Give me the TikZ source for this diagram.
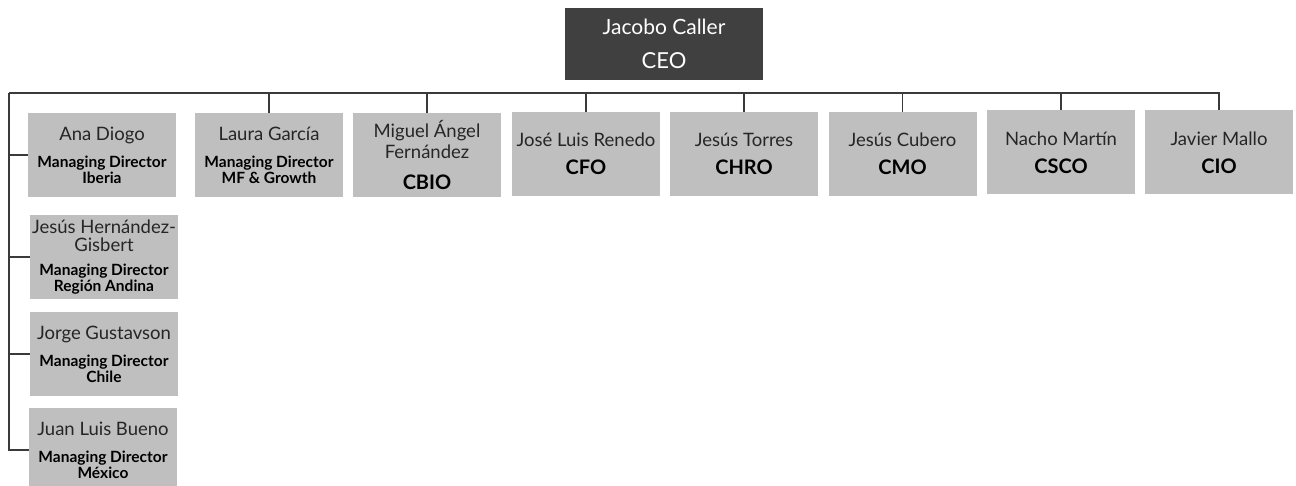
\documentclass[tikz,border=0pt]{standalone}
\usepackage{fontspec}
\setmainfont{Lato}
\usetikzlibrary{positioning}

\definecolor{ceogray}{HTML}{404040}
\definecolor{boxgray}{HTML}{BFBFBF}
\definecolor{linegray}{HTML}{3A3A3A}
\definecolor{namegray}{HTML}{262626}

\newcommand{\who}[1]{{\color{namegray}\fontsize{18.5}{20}\selectfont #1}}
\newcommand{\post}[1]{{\bfseries\fontsize{20}{22}\selectfont #1}}
\newcommand{\mdline}[1]{{\bfseries\fontsize{15.5}{15}\selectfont #1}}

\tikzset{
  person/.style={fill=boxgray, minimum width=148pt, minimum height=84pt,
    inner sep=0pt, align=center, font=\fontsize{13}{16}\selectfont},
  boss/.style={fill=ceogray, text=white, minimum width=198pt,
    minimum height=72pt, inner sep=0pt, align=center,
    font=\fontsize{13}{16}\selectfont},
  orgline/.style={draw=linegray, line width=1.2pt}
}

\begin{document}
\begin{tikzpicture}[x=1pt, y=1pt]
  \useasboundingbox (0,0) rectangle (1296,-486);

  % CEO
  \node[boss] (ceo) at (664,-44)
    {{\fontsize{21}{20}\selectfont Jacobo Caller}\\[17pt]{\fontsize{22}{22}\selectfont CEO}};

  % direct reports
  \node[person] (laura) at (269,-155)
    {\who{Laura García}\\[11pt]\mdline{Managing Director}\\[0pt]\mdline{MF \& Growth}};
  \node[person] (miguel) at (427,-155)
    {\who{Miguel Ángel}\\[3pt]\who{Fernández}\\[15pt]\post{CBIO}};
  \node[person] (jose) at (586,-154)
    {\who{José Luis Renedo}\\[12pt]\post{CFO}};
  \node[person] (torres) at (744,-154)
    {\who{Jesús Torres}\\[12pt]\post{CHRO}};
  \node[person] (cubero) at (902.5,-154)
    {\who{Jesús Cubero}\\[12pt]\post{CMO}};
  \node[person] (nacho) at (1061,-152.5)
    {\who{Nacho Martín}\\[12pt]\post{CSCO}};
  \node[person] (javier) at (1219,-152.5)
    {\who{Javier Mallo}\\[12pt]\post{CIO}};

  % country directors
  \node[person] (ana) at (102,-155)
    {\who{Ana Diogo}\\[11pt]\mdline{Managing Director}\\[0pt]\mdline{Iberia}};
  \node[person] (hernandez) at (104,-257)
    {\who{Jesús Hernández-}\\[2pt]\who{Gisbert}\\[8pt]\mdline{Managing Director}\\[0pt]\mdline{Región Andina}};
  \node[person] (jorge) at (104,-354)
    {\who{Jorge Gustavson}\\[11pt]\mdline{Managing Director}\\[0pt]\mdline{Chile}};
  \node[person] (juan) at (103,-450)
    {\who{Juan Luis Bueno}\\[11pt]\mdline{Managing Director}\\[0pt]\mdline{México}};

  % connectors
  \coordinate (barL) at (9,-93);
  \draw[orgline] (barL) -| (javier.north);
  \foreach \n in {laura,miguel,jose,torres,cubero,nacho}
    \draw[orgline] (\n.north) -- (\n.north |- barL);
  \draw[orgline] (barL) |- (juan.west);
  \foreach \n in {ana,hernandez,jorge}
    \draw[orgline] (\n.west) -- (\n.west -| barL);
\end{tikzpicture}
\end{document}
